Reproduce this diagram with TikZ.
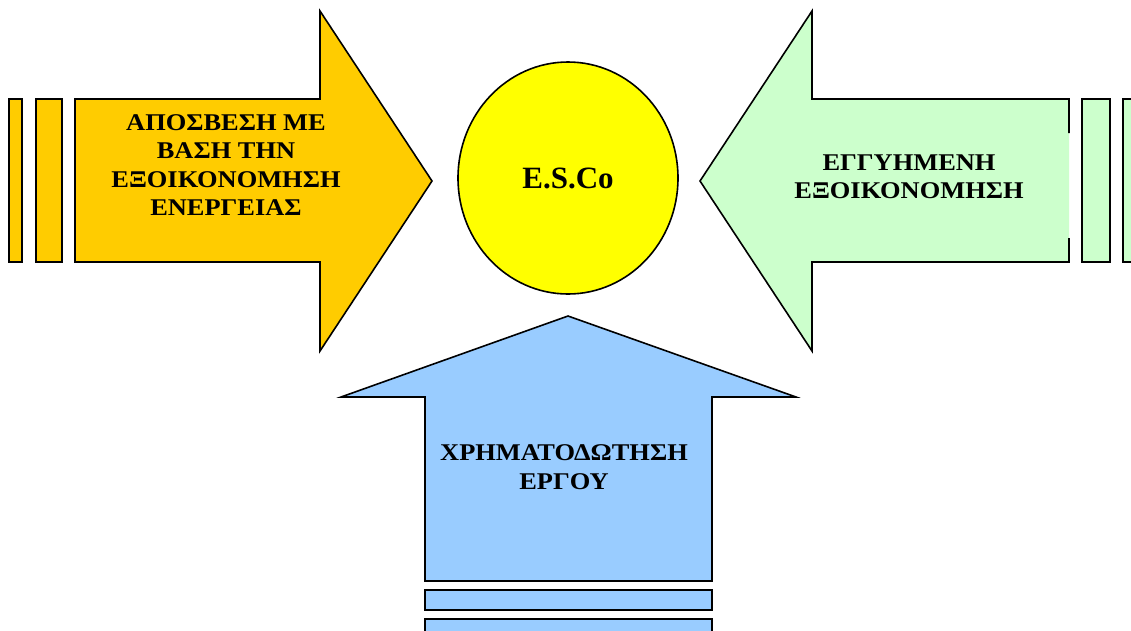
\documentclass[tikz,border=0pt]{standalone}
\usepackage{fontspec}
\setmainfont{Liberation Serif}
\usetikzlibrary{shapes.geometric}
\definecolor{amortorange}{HTML}{FFCC00}
\definecolor{escoyellow}{HTML}{FFFF00}
\definecolor{savegreen}{HTML}{CCFFCC}
\definecolor{fundblue}{HTML}{99CCFF}
\tikzset{
  arrowtext/.style={font={\bfseries\fontsize{24pt}{28.5pt}\selectfont}, align=center, xscale=1.1, transform shape},
  outline/.style={draw=black, line width=1.6pt, line join=miter}}

\begin{document}
\begin{tikzpicture}[x=1pt,y=-1pt]
\tikzstyle{every node}+=[inner sep=0pt]
\useasboundingbox (0,0) rectangle (1131,630);
\clip (0,0) rectangle (1131,630);
\fill [white] (0,0) rectangle (1131,630);
\draw [outline, fill=amortorange] (9,99) rectangle (22,262);
\draw [outline, fill=amortorange] (36,99) rectangle (62,262);
\draw [outline, fill=amortorange] (75,99) -- (320,99) -- (320,11) -- (432,181) -- (320,351) -- (320,262) -- (75,262) -- cycle;
\draw (226,165) node [arrowtext] (amort) {ΑΠΟΣΒΕΣΗ ΜΕ\\ΒΑΣΗ ΤΗΝ\\ΕΞΟΙΚΟΝΟΜΗΣΗ\\ΕΝΕΡΓΕΙΑΣ};
\draw [outline, fill=savegreen] (1123,99) rectangle (1140,262);
\draw [outline, fill=savegreen] (1082,99) rectangle (1110,262);
\fill [savegreen] (1069,99) -- (812,99) -- (812,11) -- (700,181) -- (812,351) -- (812,262) -- (1069,262) -- cycle;
\draw [outline] (1069,238) -- (1069,262) -- (812,262) -- (812,351) -- (700,181) -- (812,11) -- (812,99) -- (1069,99) -- (1069,133);
\draw (909,177) node [arrowtext] (saving) {ΕΓΓΥΗΜΕΝΗ\\ΕΞΟΙΚΟΝΟΜΗΣΗ};
\draw [outline, fill=fundblue] (425,397) -- (341,397) -- (568,316) -- (796,397) -- (712,397) -- (712,581) -- (425,581) -- cycle;
\draw [outline, fill=fundblue] (425,590) rectangle (712,610);
\draw [outline, fill=fundblue] (425,619) rectangle (712,640);
\draw (564,467) node [arrowtext, font={\bfseries\fontsize{24pt}{29.5pt}\selectfont}] (funding) {ΧΡΗΜΑΤΟΔΩΤΗΣΗ\\ΕΡΓΟΥ};
\node [ellipse, draw=black, line width=1.6pt, fill=escoyellow, minimum width=220pt, minimum height=232pt, font={\bfseries\fontsize{31pt}{36pt}\selectfont}] (esco) at (568,178) {E.S.Co};
\end{tikzpicture}
\end{document}
